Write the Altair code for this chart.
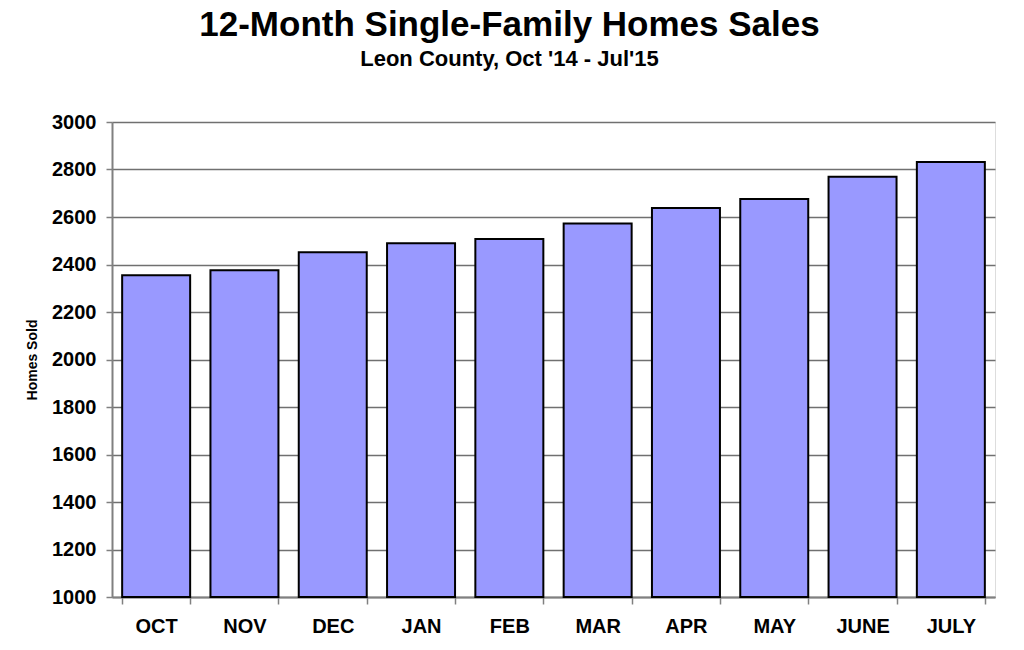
import altair as alt
import pandas as pd

months = ["OCT", "NOV", "DEC", "JAN", "FEB", "MAR", "APR", "MAY", "JUNE", "JULY"]
sales = [2355, 2376, 2452, 2490, 2507, 2573, 2638, 2676, 2770, 2832]
y_ticks = [1000, 1200, 1400, 1600, 1800, 2000, 2200, 2400, 2600, 2800, 3000]
y_base = 1000

df = pd.DataFrame({"month": months, "sales": sales})

FONT = "Liberation Sans"

chart = alt.Chart(df).mark_bar(
    fill="#9999FF", stroke="#000000", strokeWidth=2
).encode(
    x=alt.X("month:N", sort=months,
            scale=alt.Scale(paddingInner=0.23, paddingOuter=0.115),
            axis=alt.Axis(title=None, labelAngle=0, labelFont=FONT, labelFontSize=20,
                          labelFontWeight="bold", labelColor="#000000",
                          labelPadding=12, tickSize=7, tickBand="extent",
                          tickColor="#808080", tickWidth=1.5,
                          domainColor="#808080", domainWidth=2, grid=False)),
    y=alt.Y("sales:Q", scale=alt.Scale(domain=[1000, 3000], nice=False, zero=False),
            axis=alt.Axis(title="Homes Sold", values=y_ticks, format="d", titleFont=FONT,
                          titleFontSize=14, titleFontWeight="bold", titleColor="#000000",
                          titlePadding=12, labelFont=FONT, labelFontSize=20,
                          labelFontWeight="bold", labelColor="#000000", labelPadding=10,
                          tickSize=6, tickColor="#808080", tickWidth=1.5,
                          domainColor="#808080", domainWidth=2,
                          grid=True, gridColor="#707070", gridWidth=1.3)),
    y2=alt.Y2(datum=y_base),
).properties(
    width=883,
    height=475,
    padding={"left": 112, "top": 122, "right": 29, "bottom": 53},
    autosize=alt.AutoSizeParams(type="none"),
    title=alt.TitleParams(
        text="12-Month Single-Family Homes Sales",
        subtitle="Leon County, Oct '14 - Jul'15",
        font=FONT, fontSize=35, fontWeight="bold", color="#000000",
        subtitleFont=FONT, subtitleFontSize=22, subtitleFontWeight="bold",
        subtitleColor="#000000", subtitlePadding=6,
        anchor="middle", frame="group", dx=-44, offset=42,
    ),
).configure_view(
    stroke="#808080", strokeWidth=2
).configure(background="#ffffff")

chart.save("out.html", embed_options={"renderer": "svg", "actions": False})
